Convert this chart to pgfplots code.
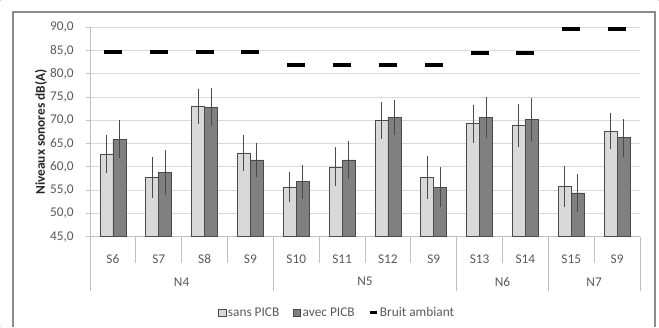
\documentclass[border=0pt]{standalone}
\usepackage{pgfplots}
\pgfplotsset{compat=1.18}
\usepackage{fontspec}
\setmainfont{Carlito}
\definecolor{lightbar}{HTML}{D9D9D9}
\definecolor{darkbar}{HTML}{808080}
\definecolor{edge}{HTML}{4A4A4A}
\definecolor{txt}{HTML}{595959}
\definecolor{gridc}{HTML}{D9D9D9}
\definecolor{axc}{HTML}{BFBFBF}
\definecolor{framec}{HTML}{8C8C8C}
\definecolor{cornerc}{HTML}{C8C8C8}
\pgfplotsset{
  errplot/.style={forget plot, draw=none, mark=none,
    error bars/.cd, y dir=both, y explicit,
    error bar style={draw=edge, line width=0.65pt, solid},
    error mark=-,
    error mark options={draw=edge, line width=0.65pt, mark size=2.8pt, solid}},
}
\begin{document}
\begin{tikzpicture}
% page extent: tiny light corner marks keep the white margin round the frame
\fill[cornerc] (0pt,244.5pt) rectangle (0.75pt,245.25pt);
\fill[cornerc] (493.5pt,244.5pt) rectangle (494.25pt,245.25pt);
\fill[cornerc] (0pt,0pt) rectangle (0.75pt,0.75pt);
\draw[framec, line width=1pt] (9.75pt,0pt) -- (9.75pt,236.25pt) -- (491.25pt,236.25pt) -- (491.25pt,0pt);
\path[use as bounding box] (0pt,0pt) rectangle (494.25pt,245.25pt);
\begin{axis}[
  at={(67.5pt,67.7pt)}, anchor=south west,
  scale only axis, width=412.5pt, height=157.05pt,
  clip=false,
  font=\fontsize{10}{12}\selectfont,
  xmin=-0.5, xmax=11.5, ymin=45, ymax=90,
  ytick={45,50,...,90},
  xtick={0,...,11},
  xticklabels={S6,S7,S8,S9,S10,S11,S12,S9,S13,S14,S15,S9},
  axis x line*=bottom, axis y line*=left,
  axis line style={axc, line width=0.75pt, -},
  x tick style={draw=none},
  y tick style={axc, line width=0.75pt},
  tick align=outside, major tick length=3pt,
  ymajorgrids, grid style={gridc, line width=0.75pt},
  /pgf/number format/.cd, fixed, fixed zerofill, precision=1, use comma, assume math mode=true,
  /pgfplots/.cd,
  yticklabel style={anchor=east, inner sep=0pt, xshift=-9pt, text=txt},
  xticklabel style={anchor=center, inner sep=0pt, yshift=-13.5pt, text=txt},
  legend style={at={(0.449,0)}, anchor=center, yshift=-57pt, draw=none, fill=none,
    legend columns=3, font=\fontsize{10}{12}\selectfont, text=txt,
    nodes={inner sep=1.2pt},
    /tikz/every even column/.append style={column sep=9pt}},
  legend cell align=left,
]
\addplot[ybar, bar width=9.75pt, bar shift=-4.875pt, fill=lightbar, draw=edge, line width=0.6pt,
  legend image code/.code={\draw[fill=lightbar, draw=edge, line width=0.5pt] (0pt,-2.8pt) rectangle (5.6pt,2.8pt);}]
coordinates {
(0,62.8) (1,57.7) (2,73.0) (3,63.0) (4,55.7) (5,60.0)
(6,70.0) (7,57.7) (8,69.3) (9,68.9) (10,55.8) (11,67.7)
};
\addlegendentry{sans PICB}
\addplot[ybar, bar width=9.75pt, bar shift=4.875pt, fill=darkbar, draw=edge, line width=0.6pt,
  legend image code/.code={\draw[fill=darkbar, draw=edge, line width=0.5pt] (0pt,-2.8pt) rectangle (5.6pt,2.8pt);}]
coordinates {
(0,66.0) (1,58.8) (2,72.8) (3,61.5) (4,56.8) (5,61.5)
(6,70.6) (7,55.6) (8,70.6) (9,70.2) (10,54.4) (11,66.3)
};
\addlegendentry{avec PICB}
\addplot[only marks, mark=-, mark size=6.75pt, mark options={black, line width=3pt, line cap=butt},
  legend image code/.code={\draw[black, line width=2.25pt] (0pt,0pt) -- (5.25pt,0pt);}]
coordinates {
(0,84.8) (1,84.8) (2,84.8) (3,84.8)
(4,81.8) (5,81.8) (6,81.8) (7,81.8)
(8,84.4) (9,84.4)
(10,89.6) (11,89.6)
};
\addlegendentry{Bruit ambiant}
% error bars of "sans PICB" (bar centres: x - 0.1418)
\addplot[errplot] coordinates {
(-0.1418,62.8) +- (0,3.2)
(0.8582,57.7) +- (0,3.6)
(1.8582,73.0) +- (0,3.0)
(2.8582,63.0) +- (0,3.1)
(3.8582,55.7) +- (0,2.4)
(4.8582,60.0) +- (0,3.4)
(5.8582,70.0) +- (0,3.2)
(6.8582,57.7) +- (0,3.8)
(7.8582,69.3) +- (0,3.3)
(8.8582,68.9) +- (0,3.9)
(9.8582,55.8) +- (0,3.7)
(10.8582,67.7) +- (0,3.1)
};
% error bars of "avec PICB" (bar centres: x + 0.1418)
\addplot[errplot] coordinates {
(0.1418,66.0) +- (0,3.2)
(1.1418,58.8) +- (0,4.0)
(2.1418,72.8) +- (0,3.3)
(3.1418,61.5) +- (0,2.9)
(4.1418,56.8) +- (0,2.9)
(5.1418,61.5) +- (0,3.2)
(6.1418,70.6) +- (0,2.9)
(7.1418,55.6) +- (0,3.5)
(8.1418,70.6) +- (0,3.6)
(9.1418,70.2) +- (0,3.8)
(10.1418,54.4) +- (0,3.3)
(11.1418,66.3) +- (0,3.3)
};
% category and group separators
\pgfplotsinvokeforeach{0.5,1.5,2.5,4.5,5.5,6.5,8.5,10.5}{
  \draw[axc, line width=0.75pt] (axis cs:#1,45) -- ++(0pt,-19.5pt);
}
\pgfplotsinvokeforeach{-0.5,3.5,7.5,9.5,11.5}{
  \draw[axc, line width=0.75pt] (axis cs:#1,45) -- ++(0pt,-40.5pt);
}
\node[text=txt, font=\fontsize{10}{12}\selectfont] at ([yshift=-33.75pt]axis cs:1.5,45) {N4};
\node[text=txt, font=\fontsize{10}{12}\selectfont] at ([yshift=-33.75pt]axis cs:5.5,45) {N5};
\node[text=txt, font=\fontsize{10}{12}\selectfont] at ([yshift=-33.75pt]axis cs:8.5,45) {N6};
\node[text=txt, font=\fontsize{10}{12}\selectfont] at ([yshift=-33.75pt]axis cs:10.5,45) {N7};
\node[rotate=90, text=black!85, font=\fontsize{10}{12}\selectfont\bfseries] at (axis description cs:-0.0891,0.5) {Niveaux sonores dB(A)};
\end{axis}
\end{tikzpicture}
\end{document}
